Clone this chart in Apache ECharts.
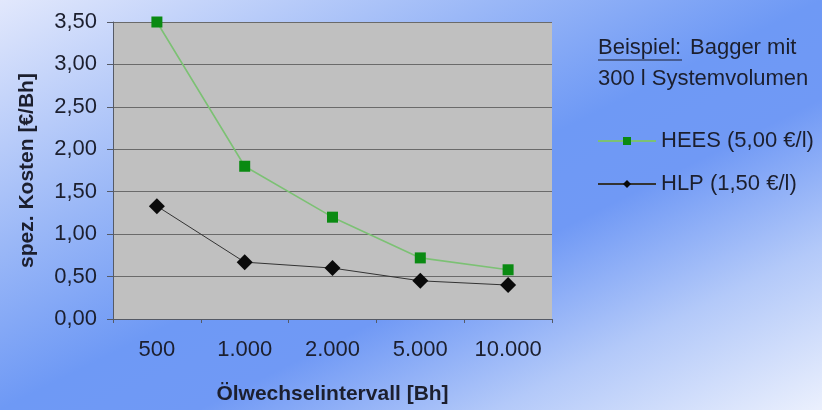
<!DOCTYPE html>
<html>
<head>
<meta charset="utf-8">
<script src="https://cdn.jsdelivr.net/npm/echarts@6/dist/echarts.min.js"></script>
<style>
  html, body { margin: 0; padding: 0; }
  #chart { width: 822px; height: 410px; }
</style>
</head>
<body>
<div id="chart"></div>
<script>
// Oil change interval categories and specific costs per operating hour
const intervals = ['500', '1.000', '2.000', '5.000', '10.000'];
const heesCost = [3.50, 1.80, 1.20, 0.72, 0.58];
const hlpCost = [1.33, 0.67, 0.60, 0.45, 0.40];
const seriesNames = ['HEES (5,00 €/l)', 'HLP (1,50 €/l)'];
const yTicks = { min: 0, max: 3.5, step: 0.5 };

const font = '"Liberation Sans", Arial, sans-serif';
const textColor = '#1c1f2e';
const fs = 22;

const chart = echarts.init(document.getElementById('chart'), null, { renderer: 'canvas' });

chart.setOption({
  animation: false,
  backgroundColor: {
    type: 'linear', global: true,
    x: 247, y: -124, x2: 575, y2: 534,
    colorStops: [
      { offset: 0, color: '#e2e8fc' },
      { offset: 0.3, color: '#9bb8f7' },
      { offset: 0.5, color: '#6e99f5' },
      { offset: 0.62, color: '#7099f5' },
      { offset: 0.8, color: '#b3c9f9' },
      { offset: 1, color: '#ebf0fd' }
    ]
  },
  textStyle: { fontFamily: font },
  grid: {
    left: 113, right: 270, top: 22, bottom: 90,
    show: true, backgroundColor: '#c0c0c0', borderWidth: 0
  },
  legend: {
    orient: 'vertical',
    left: 592, top: 125,
    itemWidth: 58, itemHeight: 10, itemGap: 21,
    textStyle: { fontFamily: font, fontSize: fs, color: textColor },
    data: seriesNames
  },
  xAxis: {
    type: 'category',
    data: intervals,
    boundaryGap: true,
    name: 'Ölwechselintervall [Bh]',
    nameLocation: 'middle',
    nameGap: 65,
    nameTextStyle: { fontFamily: font, fontSize: 21, fontWeight: 'bold', color: textColor },
    axisLine: { lineStyle: { color: '#555a66', width: 1 } },
    axisTick: { show: true, alignWithLabel: false, length: 4, lineStyle: { color: '#555a66' } },
    axisLabel: { fontFamily: font, fontSize: fs, color: textColor, margin: 20 }
  },
  yAxis: {
    type: 'value',
    min: yTicks.min, max: yTicks.max, interval: yTicks.step,
    name: 'spez. Kosten [€/Bh]',
    nameLocation: 'middle',
    nameGap: 75,
    nameRotate: 90,
    nameTextStyle: { fontFamily: font, fontSize: 21, fontWeight: 'bold', color: textColor },
    axisLine: { show: true, lineStyle: { color: '#555a66', width: 1 } },
    axisTick: { show: true, length: 6, lineStyle: { color: '#555a66' } },
    axisLabel: {
      fontFamily: font, fontSize: fs, color: textColor, margin: 16,
      formatter: v => v.toFixed(2).replace('.', ',')
    },
    splitLine: { show: true, lineStyle: { color: '#6a6a6a', width: 1 } }
  },
  series: [
    {
      name: seriesNames[0],
      type: 'line',
      data: heesCost,
      symbol: 'rect',
      symbolSize: 11,
      itemStyle: { color: '#0a8a12' },
      lineStyle: { color: '#7cc174', width: 1.6 },
      z: 3
    },
    {
      name: seriesNames[1],
      type: 'line',
      data: hlpCost,
      symbol: 'diamond',
      symbolSize: 16,
      itemStyle: { color: '#0a0a0a' },
      lineStyle: { color: '#333333', width: 1 },
      z: 4
    }
  ],
  graphic: [
    {
      type: 'text', left: 598, top: 37,
      style: { text: 'Beispiel:', font: fs + 'px ' + font, fill: textColor }
    },
    {
      type: 'line',
      shape: { x1: 598, y1: 60, x2: 682, y2: 60 },
      style: { stroke: textColor, lineWidth: 1.2 }
    },
    {
      type: 'text', left: 690, top: 37,
      style: { text: 'Bagger mit', font: fs + 'px ' + font, fill: textColor }
    },
    {
      type: 'text', left: 598, top: 68,
      style: { text: '300 l Systemvolumen', font: fs + 'px ' + font, fill: textColor }
    }
  ]
});
</script>
</body>
</html>
